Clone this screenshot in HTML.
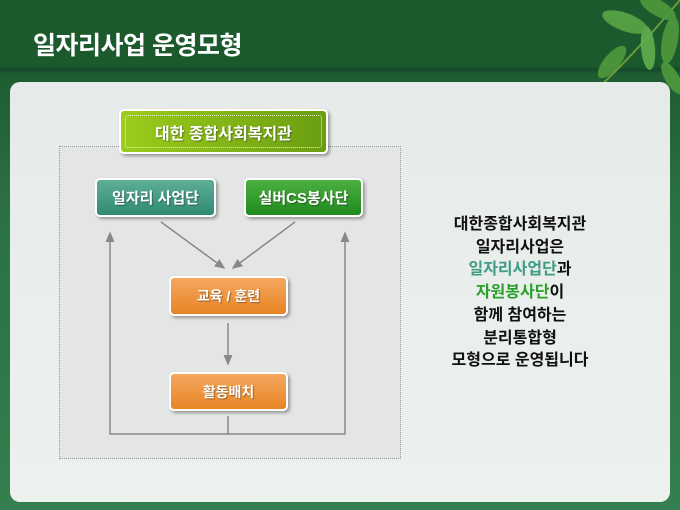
<!DOCTYPE html>
<html><head><meta charset="utf-8"><style>
*{margin:0;padding:0;box-sizing:border-box}
body{width:680px;height:510px;overflow:hidden;position:relative;font-family:"Liberation Sans","Noto Sans CJK KR",sans-serif;
background:linear-gradient(180deg,#1d5a2e 0px,#1b5a2d 66px,#16482a 70px,#1f5c32 74px,#2a7044 200px,#347f4f 510px);}
.title{position:absolute;left:33px;top:26px;color:#fff;font-size:25px;font-weight:bold;letter-spacing:-0.5px}
.panel{position:absolute;left:10px;top:82px;width:660px;height:420px;border-radius:10px;background:linear-gradient(180deg,#e6ebe9,#edf1ee)}
.dash{position:absolute;left:59px;top:146px;width:342px;height:313px;border:1.5px dotted #999;background:#e4e6e5}
.box{position:absolute;display:flex;align-items:center;justify-content:center;color:#fff;font-weight:bold;border-radius:5px;border:2px solid #fff;box-shadow:2px 2px 3px rgba(0,0,0,.35);text-shadow:1px 1px 1px rgba(0,0,0,.35)}
.txt{position:absolute;left:418px;top:214px;width:204px;text-align:center;font-size:16px;font-weight:bold;line-height:22.7px;color:#111}
</style></head><body>
<svg style="position:absolute;left:540px;top:0" width="140" height="110">
<path d="M40 105 Q90 60 140 0" stroke="#6a9a3a" stroke-width="2" fill="none"/>
<g fill="#4f9a3c" opacity="0.9">
<ellipse cx="85" cy="22" rx="9" ry="24" transform="rotate(-70 85 22)" fill="#5aa646"/>
<ellipse cx="118" cy="8" rx="8" ry="20" transform="rotate(-60 118 8)"/>
<ellipse cx="130" cy="40" rx="8" ry="24" transform="rotate(10 130 40)"/>
<ellipse cx="108" cy="48" rx="7" ry="22" transform="rotate(-5 108 48)" fill="#62ae4e"/>
<ellipse cx="72" cy="62" rx="8" ry="20" transform="rotate(40 72 62)"/>
<ellipse cx="132" cy="78" rx="7" ry="18" transform="rotate(-30 132 78)"/>
</g>
</svg>
<div class="title">일자리사업 운영모형</div>
<div class="panel"></div>
<div class="dash"></div>
<svg style="position:absolute;left:0;top:0" width="680" height="510">
<defs><marker id="a" markerWidth="8" markerHeight="8" refX="6" refY="4" orient="auto"><path d="M0,1 L7,4 L0,7 z" fill="#888"/></marker></defs>
<g stroke="#888" stroke-width="1.5" fill="none">
<line x1="161" y1="222" x2="224" y2="268" marker-end="url(#a)"/>
<line x1="295" y1="222" x2="233" y2="268" marker-end="url(#a)"/>
<line x1="228" y1="323" x2="228" y2="364" marker-end="url(#a)"/>
<polyline points="228,416 228,434 110,434 110,233" marker-end="url(#a)"/>
<polyline points="228,434 345,434 345,233" marker-end="url(#a)"/>
</g></svg>
<div class="box" style="left:119px;top:109px;width:209px;height:45px;background:linear-gradient(90deg,#9ccc1c,#6a9e12);font-size:16px">
<div style="position:absolute;inset:4px;border:1.5px dotted #e8f5c0;border-radius:3px"></div>대한 종합사회복지관</div>
<div class="box" style="left:95px;top:178px;width:121px;height:39px;background:linear-gradient(180deg,#5fae98,#2f8a72);font-size:15px">일자리 사업단</div>
<div class="box" style="left:244px;top:178px;width:119px;height:39px;background:linear-gradient(180deg,#4db040,#1f8a20);font-size:15px">실버CS봉사단</div>
<div class="box" style="left:169px;top:276px;width:119px;height:40px;background:linear-gradient(180deg,#f4a860,#e88424);font-size:14px">교육 / 훈련</div>
<div class="box" style="left:169px;top:372px;width:119px;height:39px;background:linear-gradient(180deg,#f4a860,#e88424);font-size:14px">활동배치</div>
<div class="txt">대한종합사회복지관<br>일자리사업은<br><span style="color:#3f9c86">일자리사업단</span>과<br><span style="color:#2aa02a">자원봉사단</span>이<br>함께 참여하는<br>분리통합형<br>모형으로 운영됩니다</div>
</body></html>
